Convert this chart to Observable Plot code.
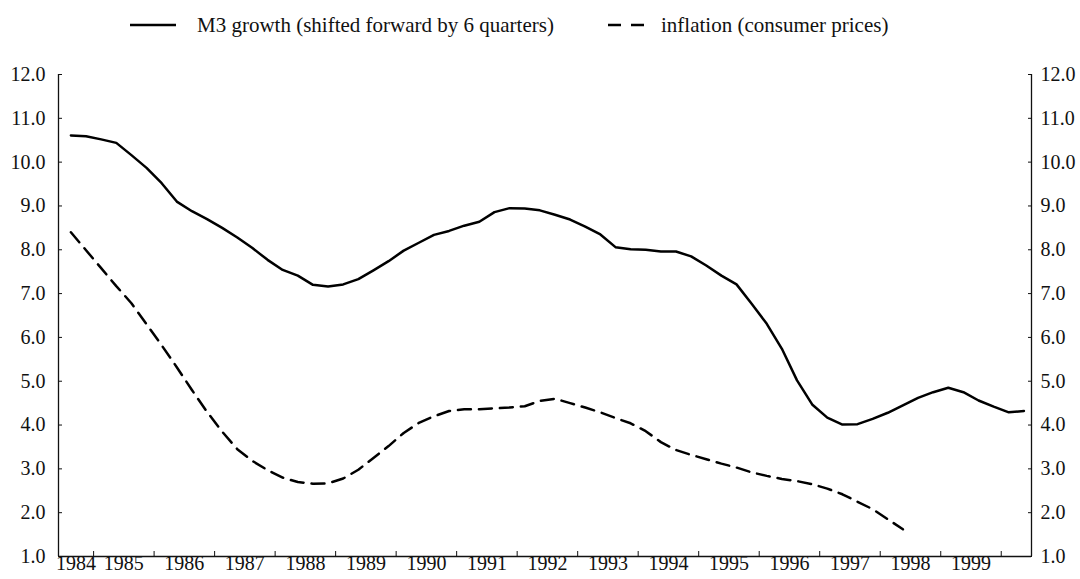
<!DOCTYPE html>
<html><head><meta charset="utf-8">
<script src="https://cdn.jsdelivr.net/npm/d3@7"></script>
<script src="https://cdn.jsdelivr.net/npm/@observablehq/plot@0.6"></script>
<style>
body{margin:0;background:#fff;font-family:"Liberation Serif","Times New Roman",serif;}
#legend{position:relative;width:1080px;height:50px;font-size:21px;color:#111;}
#legend span{position:absolute;top:12px;line-height:26px;white-space:nowrap;}
#legend svg{position:absolute;top:18px;}
</style></head><body>
<div id="legend">
  <svg style="left:126px" width="56" height="14"><line x1="4" x2="50" y1="7" y2="7" stroke="#000" stroke-width="2.5"/></svg>
  <span style="left:197px">M3 growth (shifted forward by 6 quarters)</span>
  <svg style="left:604px" width="46" height="14"><line x1="4" x2="40" y1="7" y2="7" stroke="#000" stroke-width="2.5" stroke-dasharray="13,10"/></svg>
  <span style="left:661px">inflation (consumer prices)</span>
</div>
<div id="chart"></div>
<script>
// first observation: 1984 Q3 (quarterly data)
const startYear = 1984, startQuarter = 3;

const m3Growth = [10.61, 10.59, 10.52, 10.44, 10.16, 9.87, 9.52, 9.10, 8.88, 8.70,
  8.50, 8.28, 8.04, 7.77, 7.54, 7.41, 7.20, 7.16, 7.21, 7.33,
  7.53, 7.74, 7.98, 8.16, 8.34, 8.43, 8.55, 8.64, 8.86, 8.95,
  8.94, 8.90, 8.80, 8.69, 8.53, 8.35, 8.06, 8.01, 8.00, 7.96,
  7.96, 7.85, 7.64, 7.41, 7.21, 6.77, 6.31, 5.74, 5.02, 4.47,
  4.17, 4.01, 4.02, 4.14, 4.28, 4.45, 4.62, 4.75, 4.85, 4.75,
  4.56, 4.42, 4.29, 4.32];

const inflation = [8.40, 7.99, 7.58, 7.17, 6.78, 6.30, 5.82, 5.32, 4.80, 4.30,
  3.85, 3.45, 3.18, 2.97, 2.80, 2.70, 2.66, 2.67, 2.78, 2.98,
  3.25, 3.52, 3.82, 4.05, 4.20, 4.32, 4.36, 4.36, 4.38, 4.40,
  4.43, 4.55, 4.60, 4.50, 4.40, 4.29, 4.16, 4.04, 3.86, 3.61,
  3.43, 3.32, 3.22, 3.12, 3.03, 2.92, 2.84, 2.77, 2.72, 2.65,
  2.55, 2.42, 2.25, 2.08, 1.85, 1.62];

const yTicks = [1, 2, 3, 4, 5, 6, 7, 8, 9, 10, 11, 12];
const yearLabels = [1984, 1985, 1986, 1987, 1988, 1989, 1990, 1991, 1992, 1993, 1994, 1995, 1996, 1997, 1998, 1999];
const yearBoundaries = [1985, 1986, 1987, 1988, 1989, 1990, 1991, 1992, 1993, 1994, 1995, 1996, 1997, 1998, 1999, 2000];

// quarter midpoint as decimal year
const qTime = i => startYear + (startQuarter - 1) * 0.25 + 0.125 + i * 0.25;
const m3Data = m3Growth.map((v, i) => ({t: qTime(i), v}));
const inflData = inflation.map((v, i) => ({t: qTime(i), v}));

const xDomain = [1984.42, 2000.5];
const yDomain = [1, 12];
const fmt = d3.format(".1f");
const ink = "#111";

const chart = Plot.plot({
  width: 1080,
  height: 529,
  marginLeft: 58,
  marginRight: 49,
  marginTop: 24,
  marginBottom: 23,
  style: {fontFamily: "'Liberation Serif','Times New Roman',serif", fontSize: "20px", color: ink, background: "white", overflow: "visible"},
  x: {domain: xDomain, label: null},
  y: {domain: yDomain, label: null},
  marks: [
    Plot.axisY(yTicks, {anchor: "left", label: null, tickSize: -4, tickPadding: 17, tickFormat: fmt, fontSize: 20}),
    Plot.axisY(yTicks, {anchor: "right", label: null, tickSize: -4, tickPadding: 13, tickFormat: fmt, fontSize: 20}),
    Plot.axisX(yearBoundaries, {anchor: "bottom", label: null, tickSize: -5, tickFormat: () => ""}),
    Plot.text(yearLabels, {
      x: d => d === 1984 ? (xDomain[0] + 1985) / 2 : d + 0.5,
      frameAnchor: "bottom", dy: 13, text: d => String(d), fontSize: 20, fill: ink
    }),
    Plot.ruleX(xDomain, {stroke: ink, strokeWidth: 1.3}),
    Plot.ruleY([yDomain[0]], {stroke: ink, strokeWidth: 1.3}),
    Plot.line(m3Data, {x: "t", y: "v", stroke: "#000", strokeWidth: 2.5}),
    Plot.line(inflData, {x: "t", y: "v", stroke: "#000", strokeWidth: 2.5, strokeDasharray: "13,8"})
  ]
});
document.getElementById("chart").appendChild(chart);
</script>
</body></html>
